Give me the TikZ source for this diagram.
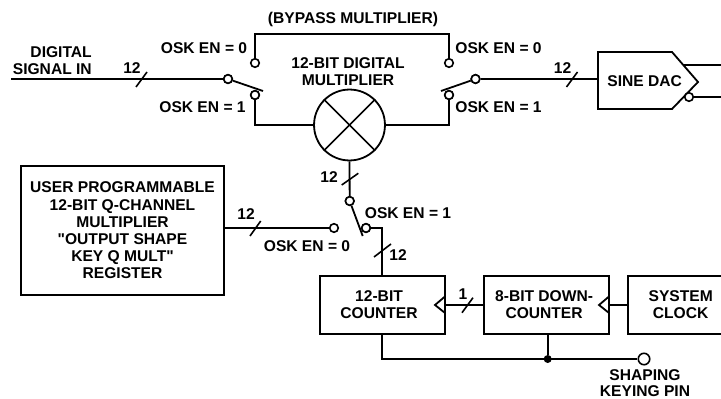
\documentclass[tikz,border=0pt]{standalone}
\usepackage{fontspec}
\newfontfamily\labfont{Liberation Sans}
\usetikzlibrary{calc}
\tikzset{
  x=0.75pt,y=-0.75pt,
  wire/.style={line width=1.35pt,line cap=butt,line join=miter},
  lab/.style={font=\labfont\fontsize{11.7}{12.9}\selectfont\bfseries,inner sep=0pt,align=center,text=black},
  pin/.style={circle,draw,line width=1.2pt,fill=white,inner sep=0pt,minimum size=6.4pt},
  bigpin/.style={circle,draw,line width=1.2pt,fill=white,inner sep=0pt,minimum size=8.6pt},
  block/.style={rectangle,draw,line width=1.35pt,inner sep=0pt,align=center,font=\labfont\fontsize{11.7}{12.9}\selectfont\bfseries},
  mult/.style={circle,draw,line width=1.35pt,inner sep=0pt,minimum size=53.2pt},
  dotn/.style={circle,fill=black,inner sep=0pt,minimum size=6pt},
  tick/.style={line width=1.2pt}
}
\begin{document}
\begin{tikzpicture}
\useasboundingbox (0,0) rectangle (721,399);
\clip (0,0) rectangle (721,399);
% top row pins
\coordinate (in) at (11,79);
\node[pin] (pinL) at (228,79) {};
\node[pin] (pinL0) at (255,63) {};
\node[pin] (pinL1) at (255,95) {};
\node[pin] (pinR) at (475.5,79) {};
\node[pin] (pinR0) at (449,63) {};
\node[pin] (pinR1) at (449,95) {};
\node[mult] (mul) at (349.5,125) {};
\coordinate (bladeL) at (263,91);
\coordinate (bladeR) at (441,91);
% DAC
\coordinate (dacin) at (598,79);
\draw[wire] (598,52) -- (672,52) -- (698,82) -- (672,109) -- (598,109) -- cycle;
\node[lab] (dactext) at (644.7,81) {SINE DAC};
\coordinate (outA) at (721,65);
\coordinate (outB) at (721,97);
\coordinate (dacA) at (683,65);
\node[pin] (dacB) at (689,97) {};
\draw[wire] (dacA) -- (outA);
\draw[wire] (dacB) -- (outB);
% wires top
\draw[wire] (in) -- (pinL);
\draw[wire] (pinL) -- (bladeL);
\draw[wire] (pinL0) -- (255,34) -- (449,34) -- (pinR0);
\draw[wire] (pinL1) |- (mul.west);
\draw[wire] (pinR1) |- (mul.east);
\draw[wire] (pinR) -- (bladeR);
\draw[wire] (pinR) -- (dacin);
% redraw pins above blades
\node[pin] at (pinL) {};
\node[pin] at (pinR) {};
\node[pin] at (pinL1) {};
\node[pin] at (pinR1) {};
% multiply cross
\draw[wire,line width=1.2pt] (mul.north west) -- (mul.south east);
\draw[wire,line width=1.2pt] (mul.south west) -- (mul.north east);
% ticks on top row
\draw[tick] (136,87) -- (147,72);
\draw[tick] (566.5,87) -- (577.5,72);
% labels top
\node[lab] (bypass) at (353,19) {(BYPASS MULTIPLIER)};
\node[lab] (multl) at (348,71.5) {12-BIT DIGITAL\\MULTIPLIER};
\node[lab,align=right,anchor=east] (dsi) at (92,60.5) {DIGITAL\\SIGNAL IN};
\node[lab] (t12a) at (132,68) {12};
\node[lab] (t12b) at (562.5,68) {12};
\node[lab] (lL0) at (204,48.5) {OSK EN = 0};
\node[lab] (lL1) at (202.5,107) {OSK EN = 1};
\node[lab] (lR0) at (498.5,48.5) {OSK EN = 0};
\node[lab] (lR1) at (498.5,107) {OSK EN = 1};
% Q mult register
\node[block,minimum width=152.25pt,minimum height=96.75pt] (reg) at (122.5,230.5) {USER PROGRAMMABLE\\12-BIT Q-CHANNEL\\MULTIPLIER\\"OUTPUT SHAPE\\KEY Q MULT"\\REGISTER};
\node[pin] (pinQ0) at (334,228) {};
\node[pin] (pinQ) at (349.7,201) {};
\node[pin] (pinQ1) at (366,228) {};
\coordinate (bladeQ) at (362.7,236);
\draw[wire] (reg.east |- pinQ0) -- (pinQ0);
\draw[wire] (mul.south) -- (pinQ);
\draw[wire] (pinQ) -- (bladeQ);
\node[pin] at (pinQ) {};
\node[pin] at (pinQ1) {};
% counters
\node[block,minimum width=93.75pt,minimum height=43.5pt] (cnt) at (382.5,305) {\hspace*{-5.2pt}12-BIT\\\hspace*{-5.2pt}COUNTER};
\node[block,minimum width=93.75pt,minimum height=43.5pt] (dwn) at (546.5,305) {\hspace*{-3.6pt}8-BIT DOWN-\\\hspace*{-3.6pt}COUNTER};
\node[block,minimum width=93.75pt,minimum height=43.5pt,text width=70pt,anchor=west] (clk) at (627,305) {\hspace*{-14.6pt}SYSTEM\\\hspace*{-14.6pt}CLOCK};
\draw[wire] (pinQ1) -- (382,228) -- (382,276);
\draw[wire] (445,296.5) -- (435,305) -- (445,313);
\draw[wire] (609,296.5) -- (599,305) -- (609,313);
\draw[wire] (cnt.east) -- (dwn.west);
\draw[wire] (dwn.east) -- (clk.west);
% ticks lower
\draw[tick] (341.7,185) -- (358.3,173.3);
\draw[tick] (374,257) -- (391,244);
\draw[tick] (250,236) -- (260.7,221);
\draw[tick] (462,312.7) -- (473,297.7);
\node[lab] (t12c) at (329,177) {12};
\node[lab] (t12d) at (398,255) {12};
\node[lab] (t12e) at (246,214) {12};
\node[lab] (t1) at (463,294) {1};
\node[lab] (lQ1) at (408,213.5) {OSK EN = 1};
\node[lab] (lQ0) at (307,246) {OSK EN = 0};
% shaping pin
\node[bigpin] (spin) at (644,359) {};
\node[dotn] (junc) at (547.7,359) {};
\draw[wire] (382,334) -- (382,359) -- (spin);
\draw[wire] (junc) -- (547.7,334);
\node[lab] (shape) at (645,383.5) {SHAPING\\[-1pt]KEYING PIN};
\end{tikzpicture}
\end{document}
